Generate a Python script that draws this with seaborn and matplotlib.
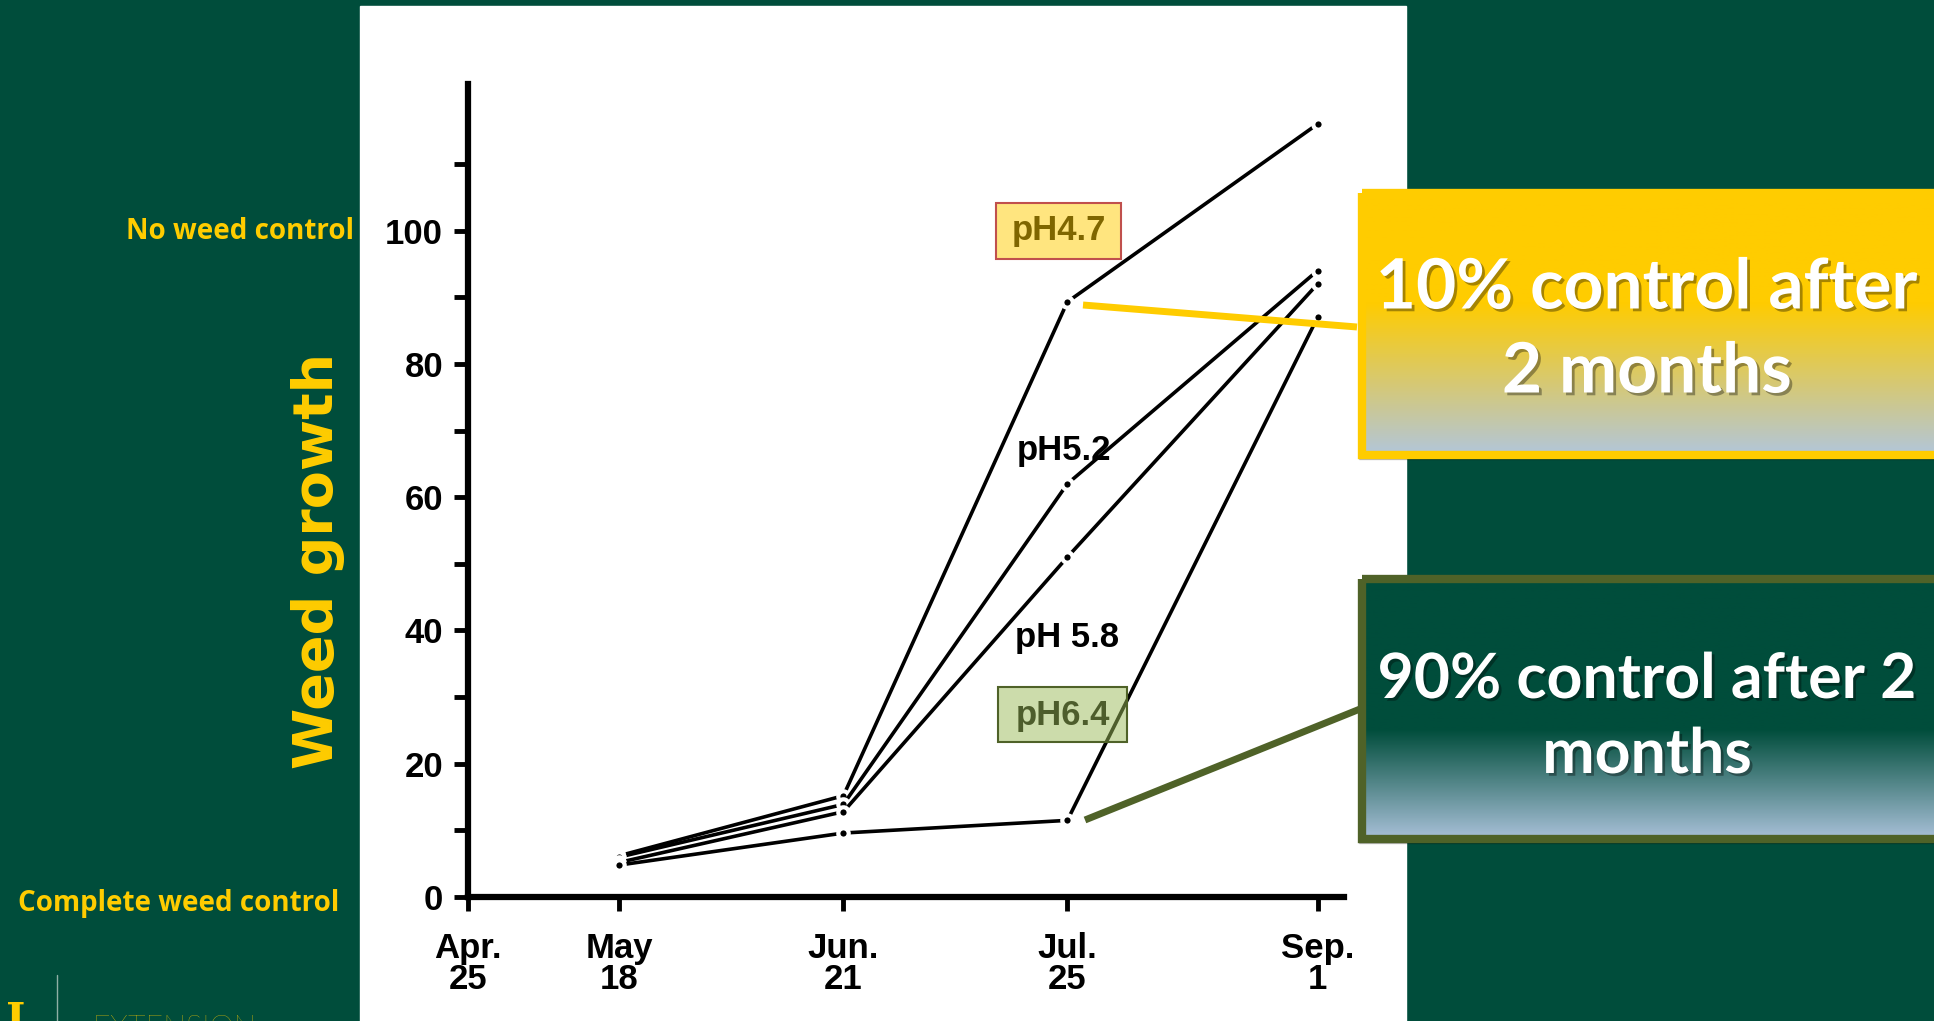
import numpy as np
import matplotlib
matplotlib.use('Agg')
import matplotlib.pyplot as plt
import matplotlib.patheffects as pe
from matplotlib.patches import Rectangle
from matplotlib.colors import to_rgba, to_rgb
import pandas as pd
import seaborn as sns

# values (days counted from Apr. 25)
sample_days = [23, 57, 91, 129]
ph_levels = ['pH4.7', 'pH5.2', 'pH5.8', 'pH6.4']
growth_ph47 = [6.2, 15.2, 89.3, 116]
growth_ph52 = [6.0, 13.9, 62, 94]
growth_ph58 = [5.2, 12.8, 51, 92]
growth_ph64 = [4.8, 9.6, 11.5, 87]

tick_days = [0, 23, 57, 91, 129]
tick_labels = ['Apr.\n25', 'May\n18', 'Jun.\n21', 'Jul.\n25', 'Sep.\n1']
y_major = [0, 20, 40, 60, 80, 100]
y_minor = [10, 30, 50, 70, 90, 110]

BG = '#004D3B'
YEL = '#FFCC00'
OLIVE = '#4F6228'
W, H = 1934, 1021

sns.set_theme(style='white')
plt.rcParams['font.family'] = ['Liberation Sans', 'DejaVu Sans']

df = pd.DataFrame({
    'day': sample_days * 4,
    'growth': growth_ph47 + growth_ph52 + growth_ph58 + growth_ph64,
    'pH': np.repeat(ph_levels, len(sample_days)),
})

fig = plt.figure(figsize=(W / 100, H / 100), dpi=100, facecolor=BG)

# background layer in pixel coordinates
bg = fig.add_axes([0, 0, 1, 1], zorder=0)
bg.set_xlim(0, W)
bg.set_ylim(H, 0)
bg.axis('off')
bg.add_patch(Rectangle((360, 6), 1046, H, color='white'))

side_kw = dict(ha='right', va='center', color=YEL, fontsize=20, fontweight='bold',
               family='Open Sans')
bg.text(354, 231, 'No weed control', **side_kw)
bg.text(339, 903, 'Complete weed control', **side_kw)
bg.text(318, 561, 'Weed growth', ha='center', va='center', rotation=90, color=YEL,
        fontsize=40, fontweight='bold', family='DejaVu Sans')
bg.plot([57, 57], [975, H], color='#8FAFA5', lw=1)
bg.text(16, 1000, 'I', ha='center', va='top', color=YEL, fontsize=30,
        fontweight='bold', family='DejaVu Serif')
bg.text(92, 1014, 'EXTENSION', ha='left', va='top', color=YEL, fontsize=22,
        fontweight='light', family='Lato')

# the chart itself
ax = fig.add_axes([468 / W, 1 - 897 / H, (1344 - 468) / W, (897 - 84) / H], zorder=1)
ax.patch.set_alpha(0)
sns.lineplot(data=df, x='day', y='growth', units='pH', estimator=None, sort=False,
             color='black', lw=2.6, marker='o', markersize=7.5,
             markerfacecolor='black', markeredgecolor='white', markeredgewidth=3,
             ax=ax)
ax.set_xlim(0, 133)
ax.set_ylim(0, 122)
ax.set_xticks(tick_days)
ax.set_xticklabels(tick_labels, linespacing=0.95)
ax.set_yticks(y_major)
ax.set_yticks(y_minor, minor=True)
ax.set_xlabel('')
ax.set_ylabel('')
for s in ['top', 'right']:
    ax.spines[s].set_visible(False)
for s in ['left', 'bottom']:
    ax.spines[s].set_linewidth(4.5)
    ax.spines[s].set_color('black')
ax.tick_params(which='both', direction='out', length=10, width=3.5, color='black',
               bottom=True, left=True)
ax.tick_params(axis='x', labelsize=25, pad=15, labelcolor='black')
ax.tick_params(axis='y', labelsize=25, pad=8, labelcolor='black')
for lab in ax.get_xticklabels() + ax.get_yticklabels():
    lab.set_fontweight('bold')

# series labels, boxes are translucent and sit over the text
lab_kw = dict(ha='center', va='center', fontsize=25, fontweight='bold', color='black', zorder=4)
ax.text(89.7, 100, 'pH4.7', **lab_kw)
ax.text(90.5, 67, 'pH5.2', **lab_kw)
ax.text(91, 39, 'pH 5.8', **lab_kw)
ax.text(90.3, 27.3, 'pH6.4', **lab_kw)
ax.add_patch(Rectangle((80.2, 95.8), 18.9, 8.4, facecolor=to_rgba(YEL, 0.5),
                       edgecolor='#C0504D', lw=1.5, zorder=5))
ax.add_patch(Rectangle((80.5, 23.3), 19.5, 8.2, facecolor=to_rgba('#9BBB59', 0.5),
                       edgecolor=OLIVE, lw=1.5, zorder=5))

# callouts on top
fg = fig.add_axes([0, 0, 1, 1], zorder=2)
fg.patch.set_alpha(0)
fg.axis('off')
fg.plot([1083, 1357], [305, 327], color=YEL, lw=5, solid_capstyle='butt')
fg.plot([1085, 1360], [820, 709], color=OLIVE, lw=5, solid_capstyle='butt')


def gradient_box(x0, y0, x1, y1, top, bottom, start, edge, edge_lw):
    n = 200
    t = np.linspace(0, 1, n)
    f = np.clip((t - start) / (1 - start), 0, 1)[:, None]
    c0 = np.array(to_rgb(top))
    c1 = np.array(to_rgb(bottom))
    img = (c0 * (1 - f) + c1 * f)[:, None, :]
    fg.add_patch(Rectangle((x0 - 3, y0 + 4), x1 - x0, y1 - y0, color='black',
                           alpha=0.2, zorder=2))
    fg.imshow(img, extent=[x0, x1, y1, y0], aspect='auto', zorder=3)
    fg.add_patch(Rectangle((x0, y0), x1 - x0, y1 - y0, fill=False,
                           edgecolor=edge, lw=edge_lw, zorder=4))


gradient_box(1362, 193, 1950, 455, YEL, '#B2C6DA', 0.42, YEL, 6)
gradient_box(1362, 579, 1950, 839, BG, '#A8C0D8', 0.58, OLIVE, 6)

shadow = [pe.withSimplePatchShadow(offset=(2, -2), shadow_rgbFace='black', alpha=0.35)]
big_kw = dict(ha='center', va='center', color='white', fontweight='bold',
              family='Lato', zorder=6, path_effects=shadow)
fg.text(1647, 289, '10% control after', fontsize=50, **big_kw)
fg.text(1647, 373, '2 months', fontsize=50, **big_kw)
fg.text(1647, 680, '90% control after 2', fontsize=45, **big_kw)
fg.text(1647, 755, 'months', fontsize=45, **big_kw)

fg.set_xlim(0, W)
fg.set_ylim(H, 0)

fig.savefig('out.png', dpi=100, facecolor=BG)
